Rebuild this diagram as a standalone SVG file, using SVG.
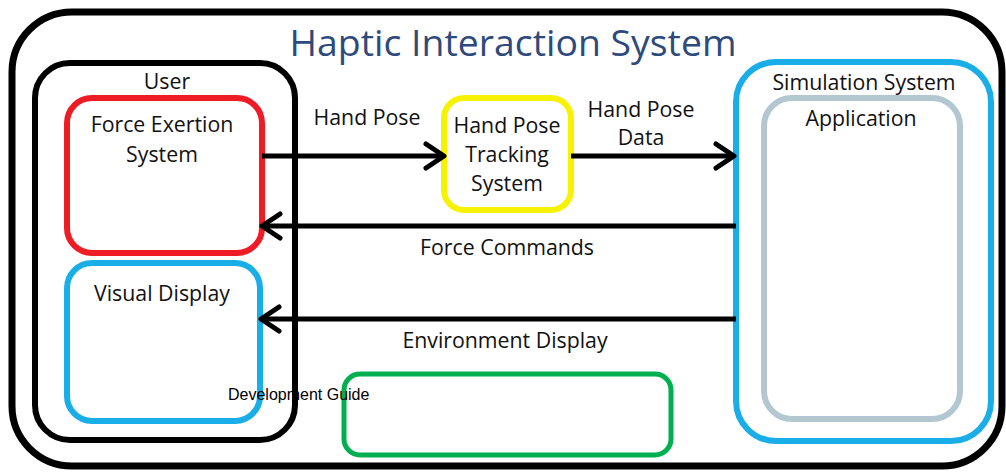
<svg xmlns="http://www.w3.org/2000/svg" width="1006" height="472" viewBox="0 0 1006 472">
  <style>
    .lbl { font-family: "Open Sans", "Noto Sans", sans-serif; font-size: 21.3px; fill: #111; text-anchor: middle; }
    .conn { stroke: #000; stroke-width: 5; fill: none; }
  </style>
  <defs>
    <marker id="chev" viewBox="0 0 26 32" refX="22" refY="16" markerWidth="26" markerHeight="32" markerUnits="userSpaceOnUse" orient="auto">
      <path d="M4,4 L22,16 L4,28" fill="none" stroke="#000" stroke-width="5" stroke-linecap="round" stroke-linejoin="round"/>
    </marker>
  </defs>
  <rect width="1006" height="472" fill="#fff"/>

  <!-- outer system frame -->
  <g id="haptic-interaction-system">
    <rect x="12" y="12" width="990" height="454" rx="60" fill="none" stroke="#000" stroke-width="7"/>
    <text x="513" y="56" font-family="Open Sans, sans-serif" font-size="37" fill="#2e4a7c" text-anchor="middle" textLength="447" lengthAdjust="spacingAndGlyphs">Haptic Interaction System</text>
  </g>

  <g id="user">
    <rect x="35" y="63" width="260" height="377" rx="35" fill="none" stroke="#000" stroke-width="6"/>
    <text class="lbl" x="167" y="89">User</text>
  </g>

  <g id="force-exertion-system">
    <rect x="67" y="98" width="195" height="155" rx="25" fill="none" stroke="#ee1c25" stroke-width="6"/>
    <text class="lbl" x="162" y="132">Force Exertion</text>
    <text class="lbl" x="162" y="162">System</text>
  </g>

  <g id="visual-display">
    <rect x="67" y="263" width="193" height="158" rx="25" fill="none" stroke="#19aee8" stroke-width="6"/>
    <text class="lbl" x="162" y="301">Visual Display</text>
  </g>

  <g id="hand-pose-tracking-system">
    <rect x="444" y="98" width="127" height="112" rx="20" fill="none" stroke="#f7f300" stroke-width="6"/>
    <text class="lbl" x="507" y="133">Hand Pose</text>
    <text class="lbl" x="507" y="162">Tracking</text>
    <text class="lbl" x="507" y="191">System</text>
  </g>

  <g id="simulation-system">
    <rect x="736" y="62" width="255" height="379" rx="40" fill="none" stroke="#19aee8" stroke-width="6"/>
    <text class="lbl" x="864" y="90">Simulation System</text>
  </g>

  <g id="application">
    <rect x="764" y="98" width="196" height="321" rx="28" fill="none" stroke="#b3c7d0" stroke-width="6"/>
    <text class="lbl" x="861" y="126">Application</text>
  </g>

  <g id="development-guide">
    <rect x="344" y="374" width="327" height="81" rx="16" fill="none" stroke="#00b050" stroke-width="5"/>
    <text x="228" y="400" font-family="Liberation Sans, Arial, sans-serif" font-size="16" fill="#000">Development Guide</text>
  </g>

  <g id="connectors">
    <line class="conn" x1="262" y1="156" x2="444" y2="156" marker-end="url(#chev)"/>
    <line class="conn" x1="571" y1="156" x2="734" y2="156" marker-end="url(#chev)"/>
    <line class="conn" x1="736" y1="226" x2="262" y2="226" marker-end="url(#chev)"/>
    <line class="conn" x1="736" y1="319" x2="261" y2="319" marker-end="url(#chev)"/>
    <text class="lbl" x="367" y="125">Hand Pose</text>
    <text class="lbl" x="641" y="117">Hand Pose</text>
    <text class="lbl" x="641" y="145">Data</text>
    <text class="lbl" x="507" y="255">Force Commands</text>
    <text class="lbl" x="505" y="348">Environment Display</text>
  </g>
</svg>
